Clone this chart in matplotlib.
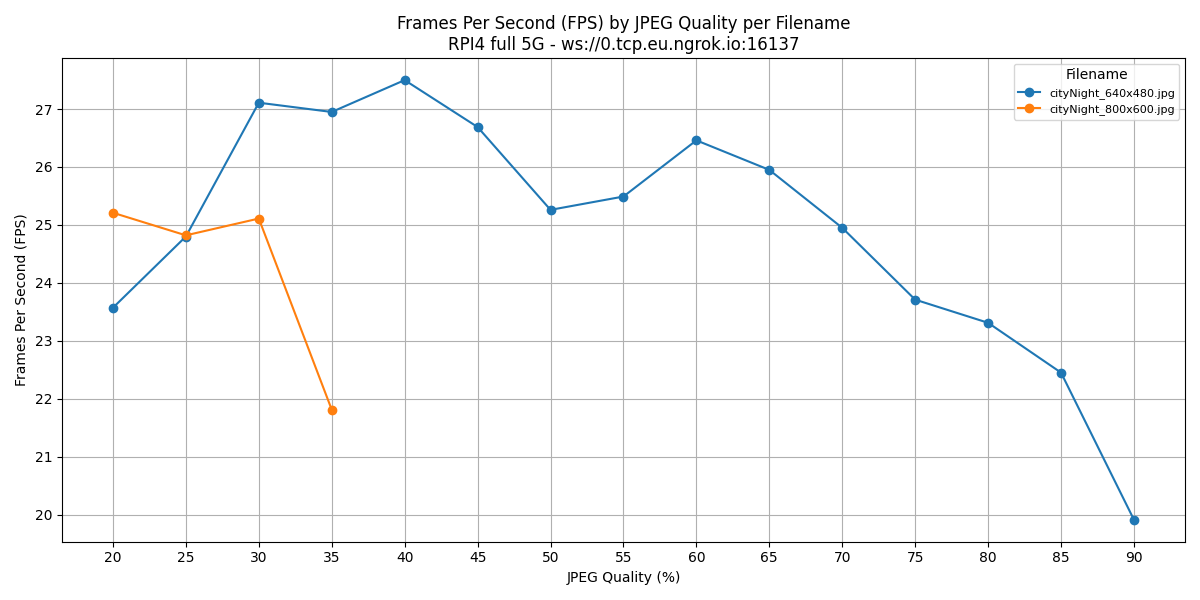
import matplotlib
matplotlib.use("Agg")
import matplotlib.pyplot as plt

quality_a = [20, 25, 30, 35, 40, 45, 50, 55, 60, 65, 70, 75, 80, 85, 90]
fps_a = [23.57, 24.80, 27.11, 26.95, 27.50, 26.69, 25.26, 25.49, 26.46, 25.95, 24.95, 23.71, 23.31, 22.45, 19.91]
quality_b = [20, 25, 30, 35]
fps_b = [25.21, 24.82, 25.11, 21.81]
labels = ["cityNight_640x480.jpg", "cityNight_800x600.jpg"]

fig, ax = plt.subplots(figsize=(12, 6), dpi=100)
ax.plot(quality_a, fps_a, marker="o", label=labels[0])
ax.plot(quality_b, fps_b, marker="o", label=labels[1])
ax.set_xticks(list(range(20, 95, 5)))
ax.set_xlabel("JPEG Quality (%)")
ax.set_ylabel("Frames Per Second (FPS)")
ax.set_title("Frames Per Second (FPS) by JPEG Quality per Filename\nRPI4 full 5G - ws://0.tcp.eu.ngrok.io:16137")
ax.grid(True)
ax.legend(title="Filename", fontsize=8)
fig.tight_layout()
fig.savefig("out.png")
